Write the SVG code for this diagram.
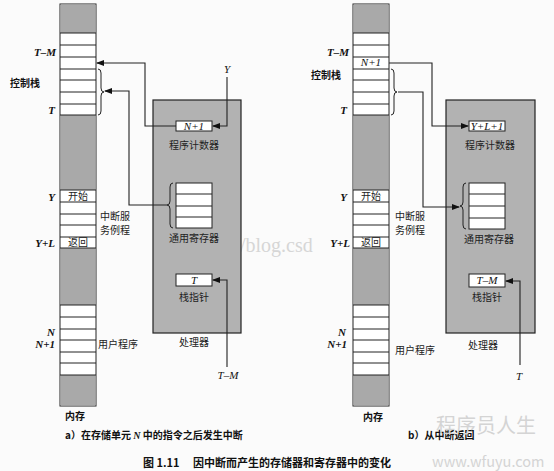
<svg xmlns="http://www.w3.org/2000/svg" width="554" height="471" viewBox="0 0 554 471">
<defs>
<marker id="ah" markerWidth="8" markerHeight="6" refX="7" refY="3" orient="auto" markerUnits="userSpaceOnUse">
<path d="M0,0 L8,3 L0,6 z" fill="#111"/>
</marker>
<style>
.shade{fill:#a9a9a9;}
.proc{fill:#b2b2b2;stroke:#222;stroke-width:1.2;}
.cell{fill:#fff;stroke:#222;stroke-width:1;}
.ln{stroke:#222;stroke-width:1;fill:none;}
.conn{stroke:#222;stroke-width:1.1;fill:none;}
.br{stroke:#222;stroke-width:1;fill:none;}
.it{font-family:"Liberation Serif",serif;font-style:italic;font-size:11px;fill:#111;}
.itb{font-family:"Liberation Serif",serif;font-style:italic;font-weight:bold;font-size:11px;fill:#111;}
.cn{font-family:"Noto Sans CJK SC",sans-serif;font-size:10px;fill:#222;}
.cnb{font-family:"Noto Sans CJK SC",sans-serif;font-size:10px;font-weight:bold;fill:#111;}
.cap{font-family:"Noto Sans CJK SC",sans-serif;font-size:11px;font-weight:bold;fill:#111;}
.wm{font-family:"Liberation Serif",serif;font-size:20px;fill:#d6d6d6;}
.wm2{font-family:"Noto Sans CJK SC",sans-serif;fill:#d4d4d4;}
</style>
</defs>
<rect width="554" height="471" fill="#fbfbfb"/>
<text class="wm" x="240" y="252">/blog.csd</text>

<g id="memory-a">
<rect class="cell" x="60" y="4" width="36" height="402"/>
<rect class="shade" x="60.5" y="4.5" width="35" height="28.5"/>
<rect class="shade" x="60.5" y="115" width="35" height="75"/>
<rect class="shade" x="60.5" y="248" width="35" height="57"/>
<rect class="shade" x="60.5" y="375" width="35" height="30.5"/>
<path class="ln" d="M60 33H96M60 45H96M60 57H96M60 69H96M60 80H96M60 92H96M60 104H96M60 115H96M60 190H96M60 202H96M60 214H96M60 225H96M60 237H96M60 248H96M60 305H96M60 317H96M60 329H96M60 340H96M60 352H96M60 363H96M60 375H96"/>
<text class="cn" x="78" y="200" text-anchor="middle" font-size="9">开始</text>
<text class="cn" x="78" y="246" text-anchor="middle" font-size="9">返回</text>
<text class="itb" x="56" y="56" text-anchor="end">T–M</text>
<text class="cnb" x="10" y="87">控制栈</text>
<text class="itb" x="55" y="114" text-anchor="end">T</text>
<text class="itb" x="55" y="201" text-anchor="end">Y</text>
<text class="itb" x="55" y="247" text-anchor="end">Y+L</text>
<text class="itb" x="55" y="336" text-anchor="end">N</text>
<text class="itb" x="55" y="348" text-anchor="end">N+1</text>
<text class="cn" x="100" y="220" font-size="9.5">中断服</text>
<text class="cn" x="100" y="234" font-size="9.5">务例程</text>
<text class="cn" x="98" y="348">用户程序</text>
<text class="cnb" x="65" y="420">内存</text>
<text class="cnb" x="65" y="439">a）在存储单元 <tspan font-family="Liberation Serif" font-style="italic">N</tspan> 中的指令之后发生中断</text>
</g>

<g id="processor-a">
<rect class="proc" x="153" y="100" width="88" height="233"/>
<text class="cn" x="194" y="346" text-anchor="middle">处理器</text>
</g>
<g id="pc-a">
<rect class="cell" x="176" y="121" width="36" height="10"/>
<text class="it" x="194" y="130" text-anchor="middle" font-size="10">N+1</text>
<text class="cn" x="194" y="149" text-anchor="middle">程序计数器</text>
</g>
<g id="regs-a">
<rect class="cell" x="176" y="183" width="36" height="45"/>
<path class="ln" d="M176 194H212M176 206H212M176 217H212"/>
<text class="cn" x="194" y="242" text-anchor="middle">通用寄存器</text>
</g>
<g id="sp-a">
<rect class="cell" x="176" y="274" width="36" height="12"/>
<text class="it" x="194" y="284" text-anchor="middle" font-size="10">T</text>
<text class="cn" x="194" y="301" text-anchor="middle">栈指针</text>
</g>
<text class="it" x="227" y="73" text-anchor="middle" font-size="10">Y</text>
<text class="it" x="228" y="379" text-anchor="middle" font-size="10">T–M</text>

<g id="memory-b">
<rect class="cell" x="353" y="4" width="36" height="402"/>
<rect class="shade" x="353.5" y="4.5" width="35" height="28.5"/>
<rect class="shade" x="353.5" y="115" width="35" height="75"/>
<rect class="shade" x="353.5" y="248" width="35" height="57"/>
<rect class="shade" x="353.5" y="375" width="35" height="30.5"/>
<path class="ln" d="M353 33H389M353 45H389M353 57H389M353 69H389M353 80H389M353 92H389M353 104H389M353 115H389M353 190H389M353 202H389M353 214H389M353 225H389M353 237H389M353 248H389M353 305H389M353 317H389M353 329H389M353 340H389M353 352H389M353 363H389M353 375H389"/>
<text class="it" x="371" y="66" text-anchor="middle" font-size="10">N+1</text>
<text class="cn" x="371" y="200" text-anchor="middle" font-size="9">开始</text>
<text class="cn" x="371" y="246" text-anchor="middle" font-size="9">返回</text>
<text class="itb" x="349" y="56" text-anchor="end">T–M</text>
<text class="cnb" x="311" y="79">控制栈</text>
<text class="itb" x="347" y="114" text-anchor="end">T</text>
<text class="itb" x="347" y="201" text-anchor="end">Y</text>
<text class="itb" x="350" y="247" text-anchor="end">Y+L</text>
<text class="itb" x="346" y="336" text-anchor="end">N</text>
<text class="itb" x="347" y="348" text-anchor="end">N+1</text>
<text class="cn" x="395" y="220" font-size="9.5">中断服</text>
<text class="cn" x="395" y="234" font-size="9.5">务例程</text>
<text class="cn" x="395" y="354">用户程序</text>
<text class="cnb" x="363" y="421">内存</text>
<text class="cnb" x="408" y="439">b）从中断返回</text>
</g>

<g id="processor-b">
<rect class="proc" x="446" y="100" width="89" height="233"/>
<text class="cn" x="483" y="349" text-anchor="middle">处理器</text>
</g>
<g id="pc-b">
<rect class="cell" x="469" y="121" width="36" height="10"/>
<text class="it" x="487" y="130" text-anchor="middle" font-size="10">Y+L+1</text>
<text class="cn" x="490" y="149" text-anchor="middle">程序计数器</text>
</g>
<g id="regs-b">
<rect class="cell" x="469" y="183" width="36" height="46"/>
<path class="ln" d="M469 194H505M469 206H505M469 218H505"/>
<text class="cn" x="489" y="243" text-anchor="middle">通用寄存器</text>
</g>
<g id="sp-b">
<rect class="cell" x="469" y="274" width="36" height="13"/>
<text class="it" x="487" y="284" text-anchor="middle" font-size="10">T–M</text>
<text class="cn" x="487" y="301" text-anchor="middle">栈指针</text>
</g>
<text class="it" x="519" y="380" text-anchor="middle" font-size="10">T</text>

<g id="connectors">
<polyline class="conn" points="227,77 227,126 213,126" marker-end="url(#ah)"/>
<polyline class="conn" points="176,126 145,126 145,63 97,63" marker-end="url(#ah)"/>
<path class="br" d="M98 69Q101 69 101 73L101 88Q101 92 104 92Q101 92 101 96L101 111Q101 115 98 115"/>
<polyline class="conn" points="167,205 129,205 129,91 105,91" marker-end="url(#ah)"/>
<path class="br" d="M173 183Q170 183 170 187L170 201Q170 205 167 205Q170 205 170 209L170 224Q170 228 173 228"/>
<polyline class="conn" points="227,367 227,280 213,280" marker-end="url(#ah)"/>

<polyline class="conn" points="389,63 432,63 432,126 468,126" marker-end="url(#ah)"/>
<path class="br" d="M391 69Q394 69 394 73L394 88Q394 92 397 92Q394 92 394 96L394 111Q394 115 391 115"/>
<polyline class="conn" points="398,92 423,92 423,207 459,207" marker-end="url(#ah)"/>
<path class="br" d="M466 183Q463 183 463 187L463 202Q463 206 460 206Q463 206 463 210L463 225Q463 229 466 229"/>
<polyline class="conn" points="520,365 520,281 506,281" marker-end="url(#ah)"/>
</g>

<text class="cap" x="143" y="467">图 1.11　 因中断而产生的存储器和寄存器中的变化</text>
<text class="wm2" x="436" y="433" font-size="20">程序员人生</text>
<text class="wm2" x="432" y="467" font-size="14.5" font-family="Liberation Sans,sans-serif">www.wfuyu.com</text>
</svg>
